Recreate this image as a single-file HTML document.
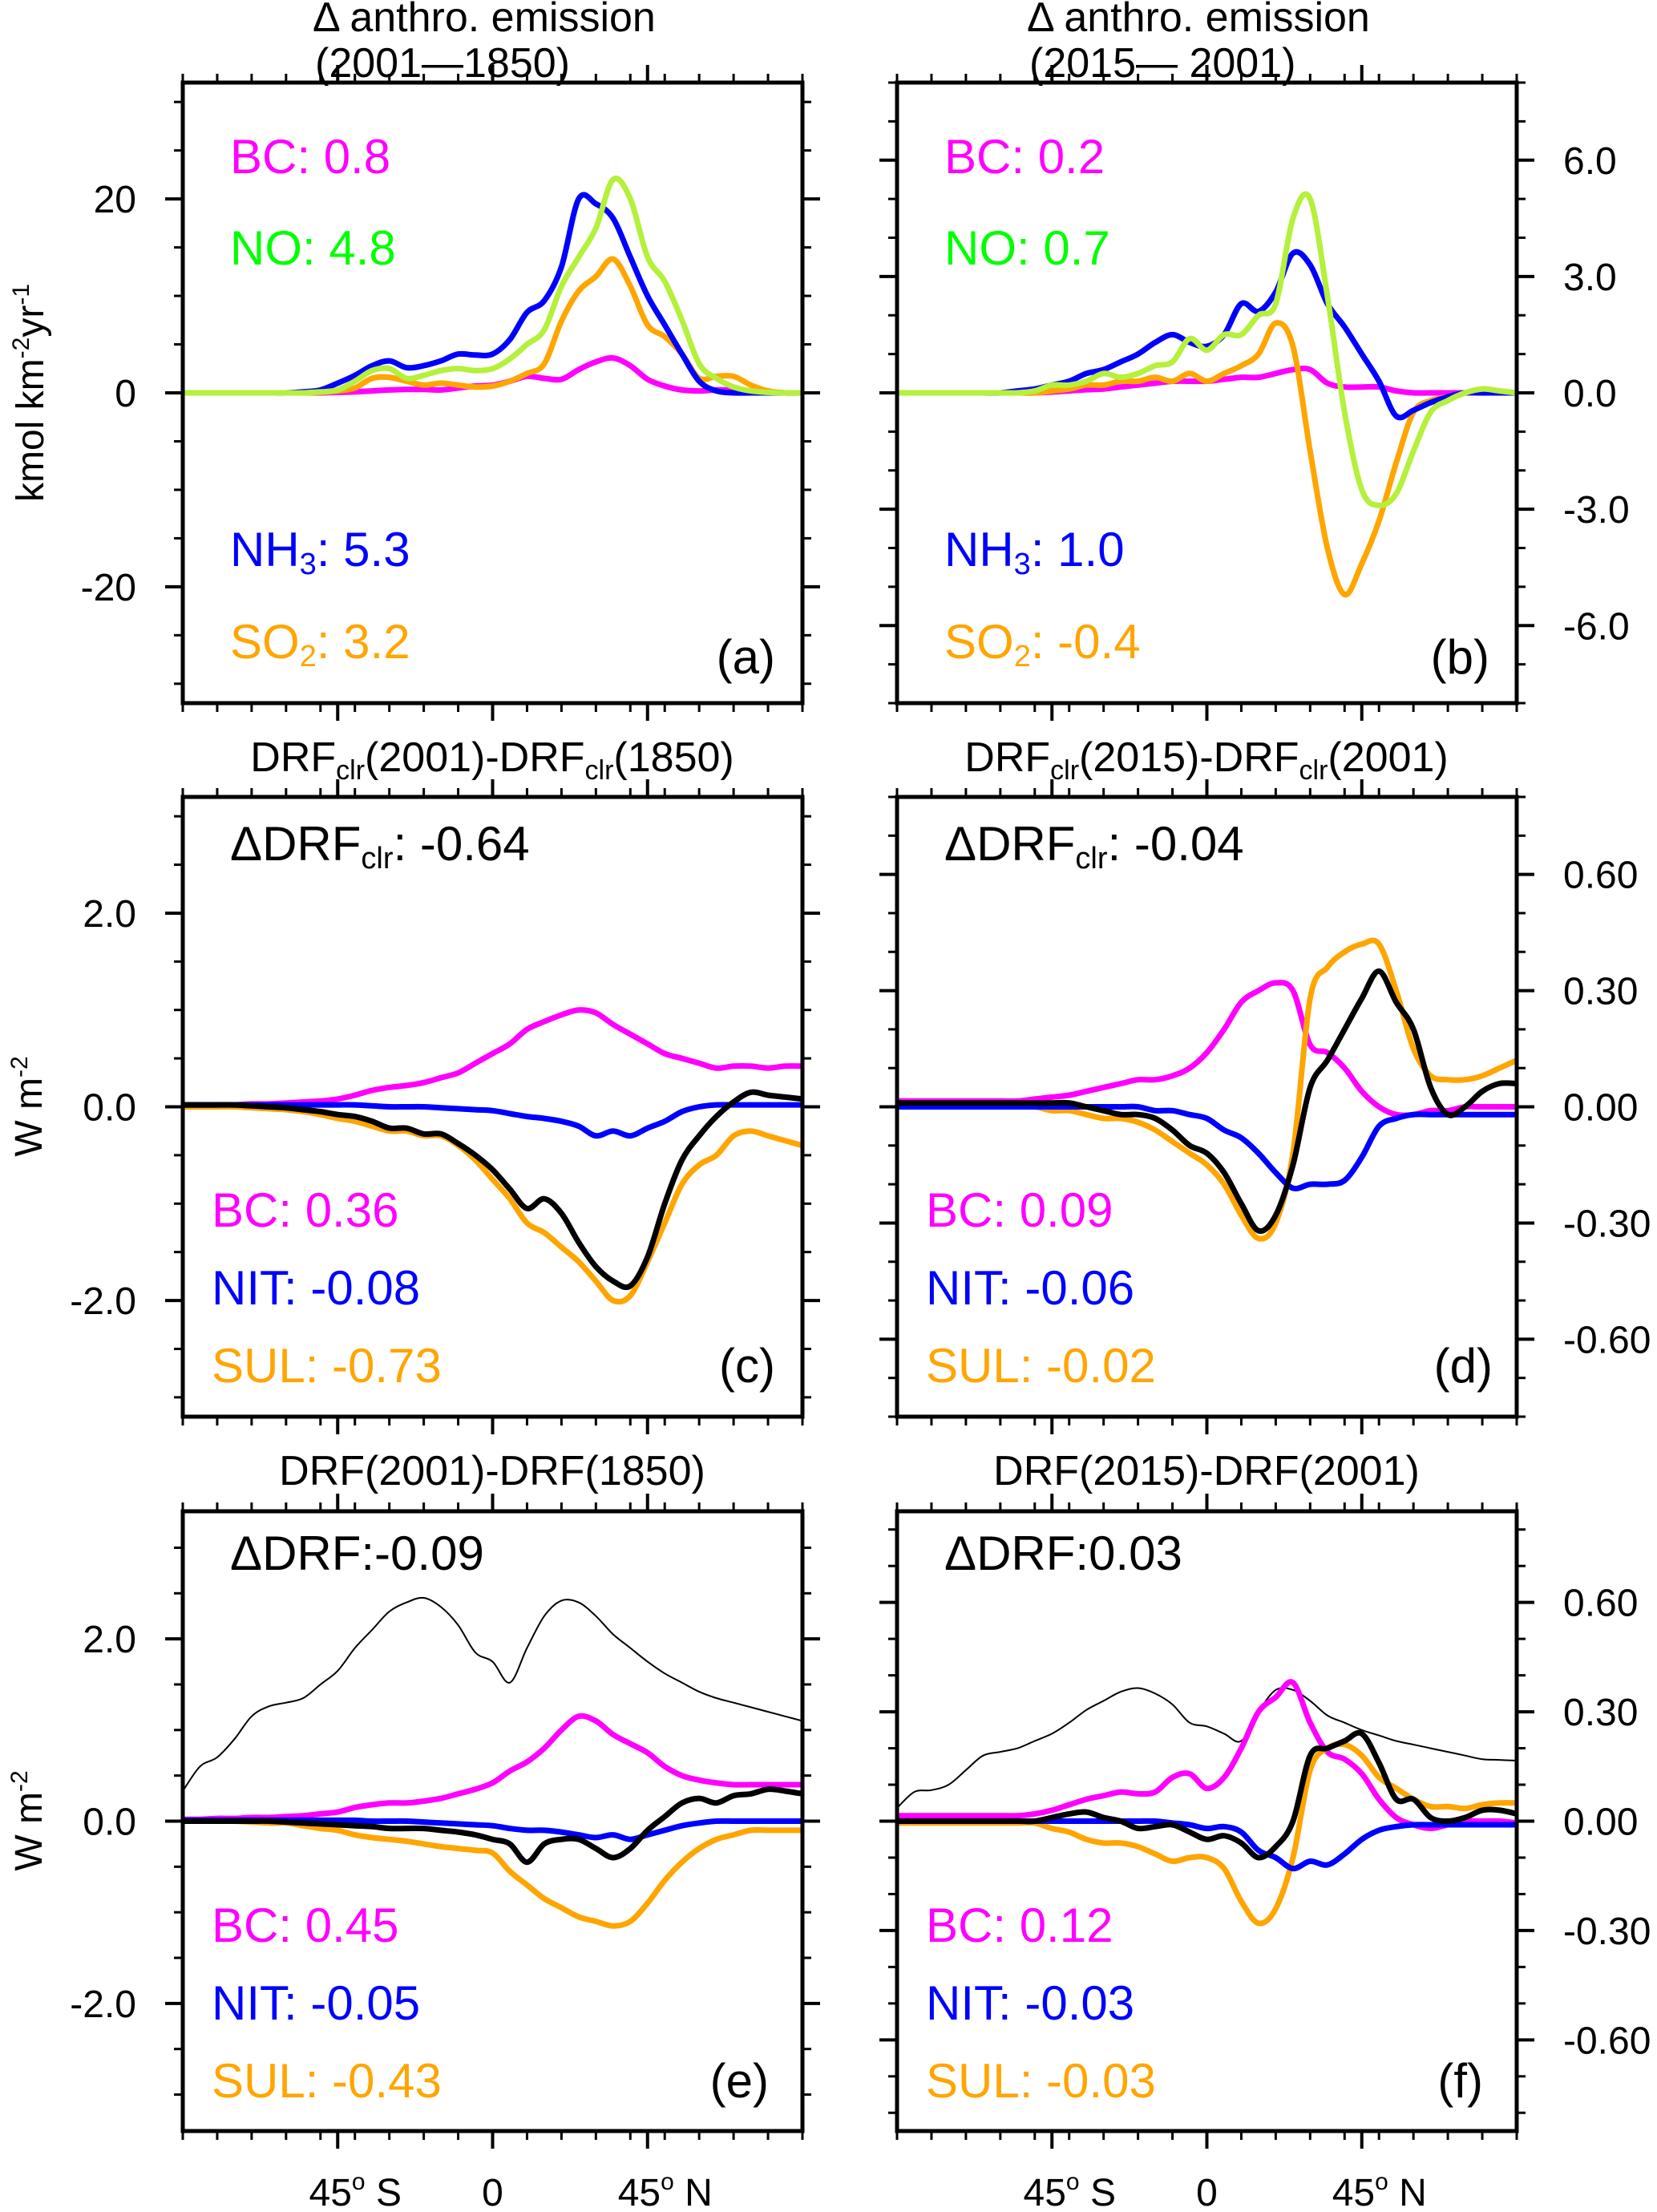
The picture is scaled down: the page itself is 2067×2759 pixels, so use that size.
<!DOCTYPE html>
<html><head><meta charset="utf-8"><style>
html,body{margin:0;padding:0;background:#fff}
svg{display:block}
text{font-family:"Liberation Sans",Arial,sans-serif}
</style></head><body>
<svg id="fig" width="2067" height="2759" viewBox="0 0 2067 2759" xmlns="http://www.w3.org/2000/svg">
<defs>
<clipPath id="clipL1"><rect x="228" y="103" width="773" height="774"/></clipPath>
<clipPath id="clipR1"><rect x="1119" y="103" width="773" height="774"/></clipPath>
<clipPath id="clipL2"><rect x="228" y="994" width="773" height="773"/></clipPath>
<clipPath id="clipR2"><rect x="1119" y="994" width="773" height="773"/></clipPath>
<clipPath id="clipL3"><rect x="228" y="1885" width="773" height="773"/></clipPath>
<clipPath id="clipR3"><rect x="1119" y="1885" width="773" height="773"/></clipPath>
</defs>
<g id="layer"></g>
<g font-size="52" fill="#000">
<text x="390" y="39">Δ anthro. emission</text>
<text x="393" y="96">(2001—1850)</text>
<text x="1281" y="39">Δ anthro. emission</text>
<text x="1284" y="96">(2015— 2001)</text>
<text x="614" y="962" text-anchor="middle" font-size="52">DRF<tspan font-size="34" dy="10">clr</tspan><tspan dy="-10">(2001)-DRF</tspan><tspan font-size="34" dy="10">clr</tspan><tspan dy="-10">(1850)</tspan></text>
<text x="1505" y="962" text-anchor="middle" font-size="52">DRF<tspan font-size="34" dy="10">clr</tspan><tspan dy="-10">(2015)-DRF</tspan><tspan font-size="34" dy="10">clr</tspan><tspan dy="-10">(2001)</tspan></text>
<text x="614" y="1852" text-anchor="middle" font-size="52">DRF(2001)-DRF(1850)</text>
<text x="1505" y="1852" text-anchor="middle" font-size="52">DRF(2015)-DRF(2001)</text>
<text transform="translate(54,490) rotate(-90)" text-anchor="middle" font-size="48">kmol km<tspan font-size="30" dy="-18">-2</tspan><tspan dy="18">yr</tspan><tspan font-size="30" dy="-18">-1</tspan></text>
<text transform="translate(52,1380) rotate(-90)" text-anchor="middle" font-size="48">W m<tspan font-size="30" dy="-18">-2</tspan></text>
<text transform="translate(52,2271) rotate(-90)" text-anchor="middle" font-size="48">W m<tspan font-size="30" dy="-18">-2</tspan></text>
</g>
<g font-size="60">
<text x="287" y="216" fill="#ff00ff">BC: 0.8</text>
<text x="287" y="330" fill="#00ff00">NO: 4.8</text>
<text x="287" y="706" fill="#0000ff">NH<tspan font-size="38" dy="10">3</tspan><tspan dy="-10">: 5.3</tspan></text>
<text x="287" y="821" fill="#ffa500">SO<tspan font-size="38" dy="10">2</tspan><tspan dy="-10">: 3.2</tspan></text>
<text x="967" y="840" text-anchor="end" fill="#000">(a)</text>
<text x="1178" y="216" fill="#ff00ff">BC: 0.2</text>
<text x="1178" y="330" fill="#00ff00">NO: 0.7</text>
<text x="1178" y="706" fill="#0000ff">NH<tspan font-size="38" dy="10">3</tspan><tspan dy="-10">: 1.0</tspan></text>
<text x="1178" y="821" fill="#ffa500">SO<tspan font-size="38" dy="10">2</tspan><tspan dy="-10">: -0.4</tspan></text>
<text x="1858" y="840" text-anchor="end" fill="#000">(b)</text>
<text x="287" y="1073" fill="#000">ΔDRF<tspan font-size="38" dy="10">clr</tspan><tspan dy="-10">: -0.64</tspan></text>
<text x="264" y="1530" fill="#ff00ff">BC: 0.36</text>
<text x="264" y="1627" fill="#0000ff">NIT: -0.08</text>
<text x="264" y="1724" fill="#ffa500">SUL: -0.73</text>
<text x="967" y="1724" text-anchor="end" fill="#000">(c)</text>
<text x="1178" y="1073" fill="#000">ΔDRF<tspan font-size="38" dy="10">clr</tspan><tspan dy="-10">: -0.04</tspan></text>
<text x="1155" y="1530" fill="#ff00ff">BC: 0.09</text>
<text x="1155" y="1627" fill="#0000ff">NIT: -0.06</text>
<text x="1155" y="1724" fill="#ffa500">SUL: -0.02</text>
<text x="1862" y="1724" text-anchor="end" fill="#000">(d)</text>
<text x="287" y="1958" fill="#000">ΔDRF:-0.09</text>
<text x="264" y="2422" fill="#ff00ff">BC: 0.45</text>
<text x="264" y="2519" fill="#0000ff">NIT: -0.05</text>
<text x="264" y="2616" fill="#ffa500">SUL: -0.43</text>
<text x="959" y="2616" text-anchor="end" fill="#000">(e)</text>
<text x="1178" y="1958" fill="#000">ΔDRF:0.03</text>
<text x="1155" y="2422" fill="#ff00ff">BC: 0.12</text>
<text x="1155" y="2519" fill="#0000ff">NIT: -0.03</text>
<text x="1155" y="2616" fill="#ffa500">SUL: -0.03</text>
<text x="1850" y="2616" text-anchor="end" fill="#000">(f)</text>
</g>
</svg>
<script>
const lats = [-90,-85,-80,-75,-70,-65,-60,-55,-50,-45,-40,-35,-30,-25,-20,-15,-10,-5,0,5,10,15,20,25,30,35,40,45,50,55,60,65,70,75,80,85,90];
const aBC  = [0,0,0,0,0,0,0,0,0, 0.05,0.1,0.2,0.3,0.35,0.35,0.3,0.5,0.7, 0.8, 1.2,1.7,1.5,1.4,2.4,3.2,3.6,2.8,1.4,0.7,0.3,0.2,0.3,0.3,0.2,0.1,0,0];
const aNO  = [0,0,0,0,0,0,0,0,0.1, 0.3,1.2,2.3,2.5,1.5,1.8,2.3,2.5,2.3, 2.5, 3.5,5,6.5,11,14,17,22,20,14,11.5,7.5,3,1.5,0.6,0.2,0.05,0,0];
const aNH3 = [0,0,0,0,0,0,0,0.1,0.3, 1,1.8,2.8,3.3,2.6,2.8,3.3,4,3.9, 4, 5.5,8.3,9.5,13,20,19.5,18,14,10,7,4,1.2,0.2,0,0,0,0,0];
const aSO2 = [0,0,0,0,0,0,0,0,0.05, 0.2,0.5,1.5,1.6,1.2,0.8,1,0.8,0.6, 0.7, 1.2,2,3,7.4,10.5,12,13.8,11,7,5.8,4,1.5,1.7,1.7,0.8,0.2,0,0];
const bBC  = [0,0,0,0,0,0,0,0,0, 0.02,0.05,0.08,0.1,0.15,0.2,0.25,0.3,0.3, 0.3, 0.35,0.4,0.4,0.5,0.6,0.6,0.25,0.15,0.15,0.15,0.05,0,0,0,0,0,0,0];
const bNO  = [0,0,0,0,0,0,0,0,0.05, 0.2,0.2,0.3,0.5,0.4,0.5,0.7,0.8,1.4, 1.1, 1.5,1.5,2,2.3,4.5,5,2.5,-0.5,-2.5,-2.9,-2.6,-1.5,-0.5,-0.2,0,0.1,0.05,0];
const bNH3 = [0,0,0,0,0,0,0,0.05,0.1, 0.2,0.3,0.5,0.6,0.8,1,1.3,1.5,1.3, 1.2, 1.5,2.3,2.1,2.6,3.6,3.3,2.3,1.7,1,0.3,-0.6,-0.45,-0.25,-0.1,0,0,0,0];
const bSO2 = [0,0,0,0,0,0,0,0,0, 0.05,0.1,0.2,0.2,0.3,0.3,0.4,0.3,0.5, 0.3, 0.5,0.7,1,1.8,1.2,-1.5,-4,-5.2,-4.4,-3.3,-1.8,-0.5,-0.2,-0.1,0,0.1,0.05,0];
const cBC  = [0.02,0.02,0.02,0.02,0.03,0.03,0.04,0.05,0.06, 0.08,0.12,0.17,0.2,0.22,0.25,0.3,0.35,0.45, 0.55, 0.65,0.8,0.88,0.95,1.0,0.97,0.85,0.75,0.65,0.55,0.5,0.45,0.4,0.42,0.42,0.4,0.42,0.42];
const cNIT = [0.02,0.02,0.02,0.02,0.02,0.02,0.02,0.02,0.02, 0.02,0.02,0.01,0,0,0,-0.01,-0.02,-0.03, -0.04, -0.07,-0.1,-0.12,-0.15,-0.2,-0.3,-0.25,-0.3,-0.22,-0.15,-0.05,0,0.02,0.02,0.02,0.02,0.02,0.02];
const cSUL = [0,0,0,0,-0.01,-0.02,-0.03,-0.05,-0.08, -0.12,-0.15,-0.2,-0.25,-0.25,-0.3,-0.3,-0.4,-0.55, -0.75, -0.95,-1.2,-1.3,-1.45,-1.6,-1.8,-2.0,-1.95,-1.6,-1.2,-0.8,-0.6,-0.5,-0.3,-0.25,-0.3,-0.35,-0.4];
const cTOT = [0.02,0.02,0.02,0.02,0.01,0,-0.01,-0.03,-0.05, -0.08,-0.1,-0.15,-0.22,-0.22,-0.28,-0.28,-0.38,-0.5, -0.65, -0.85,-1.05,-0.95,-1.1,-1.4,-1.65,-1.8,-1.85,-1.55,-1.0,-0.55,-0.3,-0.1,0.05,0.15,0.12,0.1,0.08];
const dBC  = [0.015,0.015,0.015,0.015,0.015,0.015,0.015,0.015,0.02, 0.025,0.03,0.04,0.05,0.06,0.07,0.07,0.08,0.1, 0.14, 0.2,0.27,0.3,0.32,0.3,0.16,0.14,0.1,0.04,0.0,-0.02,-0.02,-0.01,-0.01,0,0,0,0];
const dNIT = [0,0,0,0,0,0,0,0,0, 0,0,0,0,0,0,-0.01,-0.01,-0.02, -0.03, -0.06,-0.08,-0.12,-0.17,-0.21,-0.2,-0.2,-0.19,-0.13,-0.05,-0.03,-0.02,-0.02,-0.02,-0.02,-0.02,-0.02,-0.02];
const dSUL = [0,0,0,0,0,0,0,0,0, -0.01,-0.01,-0.02,-0.03,-0.03,-0.04,-0.06,-0.09,-0.12, -0.15, -0.2,-0.28,-0.34,-0.3,-0.12,0.28,0.36,0.4,0.42,0.42,0.3,0.15,0.08,0.07,0.07,0.08,0.1,0.12];
const dTOT = [0.01,0.01,0.01,0.01,0.01,0.01,0.01,0.01,0.01, 0.01,0.01,0,-0.01,-0.02,-0.02,-0.03,-0.06,-0.1, -0.12, -0.17,-0.25,-0.32,-0.28,-0.15,0.05,0.12,0.2,0.28,0.35,0.27,0.2,0.05,-0.02,0,0.04,0.06,0.06];
const eREF = [0.33,0.6,0.7,0.9,1.15,1.26,1.3,1.35,1.5, 1.65,1.9,2.1,2.3,2.4,2.45,2.35,2.15,1.85, 1.75, 1.52,1.9,2.25,2.42,2.4,2.25,2.05,1.9,1.75,1.62,1.52,1.42,1.35,1.3,1.25,1.2,1.15,1.1];
const eBC  = [0.02,0.02,0.03,0.03,0.04,0.04,0.05,0.06,0.08, 0.1,0.15,0.18,0.2,0.2,0.22,0.25,0.3,0.35, 0.42, 0.55,0.65,0.8,1.0,1.15,1.1,0.95,0.85,0.75,0.6,0.5,0.45,0.42,0.4,0.4,0.4,0.4,0.4];
const eNIT = [0.01,0.01,0.01,0.01,0.01,0.01,0.01,0.01,0.01, 0.01,0.01,0,0,0,-0.01,-0.02,-0.03,-0.04, -0.05, -0.08,-0.1,-0.1,-0.12,-0.15,-0.18,-0.15,-0.2,-0.15,-0.1,-0.05,-0.02,0,0,0,0,0,0];
const eSUL = [0,0,0,0,-0.01,-0.02,-0.02,-0.05,-0.08, -0.1,-0.15,-0.18,-0.2,-0.22,-0.25,-0.28,-0.3,-0.32, -0.35, -0.55,-0.7,-0.85,-0.95,-1.05,-1.1,-1.15,-1.1,-0.9,-0.65,-0.45,-0.3,-0.2,-0.15,-0.1,-0.1,-0.1,-0.1];
const eTOT = [0,0,0,0,0,0,-0.01,-0.02,-0.03, -0.04,-0.05,-0.06,-0.08,-0.08,-0.08,-0.1,-0.12,-0.15, -0.2, -0.25,-0.45,-0.25,-0.2,-0.2,-0.3,-0.4,-0.3,-0.1,0.05,0.2,0.25,0.2,0.28,0.3,0.35,0.33,0.3];
const fREF = [0.036,0.08,0.085,0.1,0.14,0.18,0.19,0.2,0.22, 0.24,0.27,0.305,0.33,0.355,0.365,0.35,0.32,0.27, 0.26, 0.24,0.22,0.3,0.36,0.36,0.33,0.29,0.27,0.25,0.235,0.22,0.21,0.2,0.19,0.18,0.17,0.168,0.166];
const fBC  = [0.015,0.015,0.015,0.015,0.015,0.015,0.015,0.015,0.02, 0.03,0.045,0.06,0.07,0.08,0.075,0.08,0.12,0.13, 0.09, 0.12,0.2,0.3,0.34,0.38,0.27,0.19,0.17,0.13,0.06,0.01,-0.01,-0.02,-0.01,0,0,0,-0.005];
const fNIT = [0,0,0,0,0,0,0,0,0, 0,0,0,0,0,0,0,-0.005,-0.01, -0.02, -0.015,-0.03,-0.08,-0.1,-0.13,-0.11,-0.12,-0.09,-0.05,-0.025,-0.015,-0.01,-0.01,-0.01,-0.01,-0.01,-0.01,-0.01];
const fSUL = [-0.005,-0.005,-0.005,-0.005,-0.005,-0.005,-0.005,-0.005,-0.005, -0.02,-0.03,-0.05,-0.06,-0.06,-0.07,-0.09,-0.11,-0.1, -0.1, -0.13,-0.22,-0.28,-0.24,-0.1,0.14,0.2,0.21,0.18,0.12,0.09,0.06,0.04,0.04,0.035,0.045,0.05,0.05];
const fTOT = [0,0,0,0,0,0,0,0,0, 0.01,0.02,0.025,0.01,0,-0.02,-0.015,-0.01,-0.03, -0.05, -0.04,-0.06,-0.1,-0.07,0,0.18,0.2,0.22,0.24,0.16,0.06,0.06,0.01,0,0.01,0.03,0.03,0.02];

const xMajor = [-45,0,45];
const xMinor = [-90,-80,-70,-60,-50,-40,-30,-20,-10,10,20,30,40,50,60,70,80,90];
const xTickLabels = ["45", "0", "45"];

const NS = "http://www.w3.org/2000/svg";
const layer = document.getElementById('layer');
const W = 773;
const C = {pink:"#ff00ff", blue:"#0000ff", orange:"#ffa500", green:"#b4f03c", black:"#000"};

const panels = [
 {id:"a", x0:228, y0:103, h:774, ymax:32, major:[-20,0,20], lab:["-20","0","20"], minorStep:5, side:"left", clip:"clipL1",
  series:[[aBC,C.pink,7],[aSO2,C.orange,7],[aNH3,C.blue,7],[aNO,C.green,7]]},
 {id:"b", x0:1119, y0:103, h:774, ymax:8, major:[-6,-3,0,3,6], lab:["-6.0","-3.0","0.0","3.0","6.0"], minorStep:1, side:"right", clip:"clipR1",
  series:[[bBC,C.pink,7],[bSO2,C.orange,7],[bNH3,C.blue,7],[bNO,C.green,7]]},
 {id:"c", x0:228, y0:994, h:773, ymax:3.2, major:[-2,0,2], lab:["-2.0","0.0","2.0"], minorStep:0.5, side:"left", clip:"clipL2",
  series:[[cBC,C.pink,7],[cSUL,C.orange,7],[cNIT,C.blue,7],[cTOT,C.black,7]]},
 {id:"d", x0:1119, y0:994, h:773, ymax:0.8, major:[-0.6,-0.3,0,0.3,0.6], lab:["-0.60","-0.30","0.00","0.30","0.60"], minorStep:0.1, side:"right", clip:"clipR2",
  series:[[dBC,C.pink,7],[dSUL,C.orange,7],[dNIT,C.blue,7],[dTOT,C.black,7]]},
 {id:"e", x0:228, y0:1885, h:773, ymax:3.4, major:[-2,0,2], lab:["-2.0","0.0","2.0"], minorStep:0.5, side:"left", clip:"clipL3",
  series:[[eREF,C.black,2],[eBC,C.pink,7],[eSUL,C.orange,7],[eNIT,C.blue,7],[eTOT,C.black,7]]},
 {id:"f", x0:1119, y0:1885, h:773, ymax:0.85, major:[-0.6,-0.3,0,0.3,0.6], lab:["-0.60","-0.30","0.00","0.30","0.60"], minorStep:0.1, side:"right", clip:"clipR3",
  series:[[fREF,C.black,2],[fBC,C.pink,7],[fSUL,C.orange,7],[fNIT,C.blue,7],[fTOT,C.black,7]]}
];

function mk(tag, attrs){ const e=document.createElementNS(NS,tag); for(const k in attrs) e.setAttribute(k,attrs[k]); return e; }

function smoothPath(pts){
  let d = "M"+pts[0][0].toFixed(1)+","+pts[0][1].toFixed(1);
  for(let i=0;i<pts.length-1;i++){
    const p0=pts[Math.max(0,i-1)], p1=pts[i], p2=pts[i+1], p3=pts[Math.min(pts.length-1,i+2)];
    const c1x=p1[0]+(p2[0]-p0[0])/6, c1y=p1[1]+(p2[1]-p0[1])/6;
    const c2x=p2[0]-(p3[0]-p1[0])/6, c2y=p2[1]-(p3[1]-p1[1])/6;
    d += " C"+c1x.toFixed(1)+","+c1y.toFixed(1)+" "+c2x.toFixed(1)+","+c2y.toFixed(1)+" "+p2[0].toFixed(1)+","+p2[1].toFixed(1);
  }
  return d;
}

panels.forEach(p=>{
  const g = mk('g',{});
  
  
  layer.appendChild(g);
  const xs = v => p.x0 + (v+90)/180*W;
  const ys = v => p.y0 + p.h/2 - v/p.ymax*(p.h/2);
  const sg = mk('g',{"clip-path":"url(#"+p.clip+")"});
  g.appendChild(sg);
  p.series.forEach((s,si)=>{
    const pts = lats.map((la,i)=>[xs(la), ys(s[0][i])]);
    const path = mk('path',{d:smoothPath(pts),fill:"none",stroke:s[1],"stroke-width":s[2],"stroke-linejoin":"round","stroke-linecap":"round"});
    
    
    sg.appendChild(path);
  });
  const fr = mk('rect',{x:p.x0,y:p.y0,width:W,height:p.h,fill:"none",stroke:"#000","stroke-width":5});
  
  
  g.appendChild(fr);
  const tg = mk('g',{stroke:"#000","stroke-width":4});
  
  
  g.appendChild(tg);
  const yb = p.y0+p.h, xr = p.x0+W;
  xMajor.forEach(v=>{ const x=xs(v);
    tg.appendChild(mk('line',{x1:x,x2:x,y1:yb,y2:yb+22}));
    tg.appendChild(mk('line',{x1:x,x2:x,y1:p.y0,y2:p.y0-22})); });
  xMinor.forEach(v=>{ const x=xs(v);
    tg.appendChild(mk('line',{x1:x,x2:x,y1:yb,y2:yb+11,"stroke-width":3}));
    tg.appendChild(mk('line',{x1:x,x2:x,y1:p.y0,y2:p.y0-11,"stroke-width":3})); });
  const n = Math.floor(p.ymax/p.minorStep+1e-6);
  for(let k=-n;k<=n;k++){ const v=k*p.minorStep; const y=ys(v);
    if(p.major.some(m=>Math.abs(m-v)<1e-6)) continue;
    tg.appendChild(mk('line',{x1:p.x0,x2:p.x0-11,y1:y,y2:y,"stroke-width":3}));
    tg.appendChild(mk('line',{x1:xr,x2:xr+11,y1:y,y2:y,"stroke-width":3})); }
  p.major.forEach((v,i)=>{ const y=ys(v);
    tg.appendChild(mk('line',{x1:p.x0,x2:p.x0-22,y1:y,y2:y}));
    tg.appendChild(mk('line',{x1:xr,x2:xr+22,y1:y,y2:y}));
    const t = mk('text',{y:y+17,"font-size":48});
    if(p.side==="left"){ t.setAttribute('x',170); t.setAttribute('text-anchor','end'); }
    else { t.setAttribute('x',1950); }
    t.textContent = p.lab[i];
    
    
    g.appendChild(t); });
  if(p.id==="e" || p.id==="f"){
    xMajor.forEach((v,i)=>{
      const t = mk('text',{x:xs(v)+(v===0?0:22),y:2751,"font-size":48,"text-anchor":"middle"});
      if(v===0){ t.textContent="0"; }
      else {
        t.textContent = xTickLabels[i];
        const sup = mk('tspan',{"font-size":30,dy:-20}); sup.textContent="o"; t.appendChild(sup);
        const rest = mk('tspan',{dy:20}); rest.textContent = v<0 ? "   S" : "   N"; t.appendChild(rest);
        t.setAttribute('xml:space','preserve');
      }
      
      
      g.appendChild(t);
    });
  }
});
</script>
</body></html>
